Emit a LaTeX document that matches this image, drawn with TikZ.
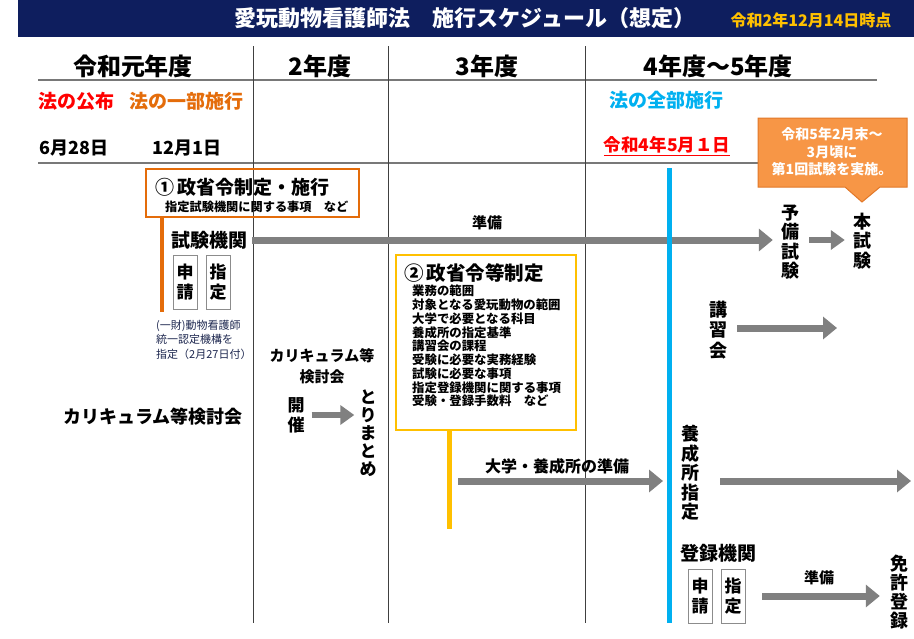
\documentclass[tikz,border=0pt]{standalone}
\usepackage{fontspec}
\setmainfont{Noto Sans CJK JP}
\usetikzlibrary{arrows.meta}
\definecolor{navy}{RGB}{14,30,94}
\definecolor{ttlyellow}{RGB}{255,192,0}
\definecolor{lawred}{RGB}{255,0,0}
\definecolor{laworange}{RGB}{228,108,10}
\definecolor{lawblue}{RGB}{0,176,240}
\definecolor{gold}{RGB}{255,192,0}
\definecolor{agray}{RGB}{128,128,128}
\definecolor{gridgray}{RGB}{120,120,120}
\definecolor{callout}{RGB}{247,150,70}
\definecolor{calloutedge}{RGB}{226,120,40}
\definecolor{notecol}{RGB}{30,40,80}
\newcommand{\fs}[2]{\fontsize{#1}{#2}\selectfont}
\tikzset{
  lbl/.style={inner sep=0pt, font=\bfseries\fs{18}{21}},
  vt/.style={inner sep=0pt, align=center, font=\bfseries\fs{18}{19.5}},
  garrow/.style={draw=agray, line width=7pt, -{Triangle[length=14pt,width=22pt]}},
  sarrow/.style={draw=agray, line width=6pt, -{Triangle[length=14pt,width=19pt]}},
  hgrid/.style={draw=gridgray, line width=1.6pt},
  vgrid/.style={draw=black!75, line width=1pt},
  smallbox/.style={draw=black!45, line width=0.8pt, inner sep=0pt, minimum width=24pt, minimum height=54pt, align=center, font=\bfseries\fs{17}{20}},
}
\begin{document}
\begin{tikzpicture}[x=1pt,y=-1pt]
\useasboundingbox[fill=white] (0,0) rectangle (914,638);
% title bar
\node[fill=navy, minimum width=896pt, minimum height=37pt, inner sep=0pt, anchor=north west] (bar) at (18,0) {};
\node[inner sep=0pt, text=white, font=\bfseries\fs{22}{26}] (title) at (465,18) {愛玩動物看護師法　施行スケジュール（想定）};
\node[inner sep=0pt, text=ttlyellow, font=\bfseries\fs{16}{18}] (asof) at (811,20) {令和2年12月14日時点};
% headers
\node[lbl, font=\bfseries\fs{24}{28}] (y1) at (133,66) {令和元年度};
\node[lbl, font=\bfseries\fs{24}{28}] (y2) at (320,66) {2年度};
\node[lbl, font=\bfseries\fs{24}{28}] (y3) at (487,66) {3年度};
\node[lbl, font=\bfseries\fs{24}{28}] (y45) at (718,66) {4年度～5年度};
% grid
\coordinate (hl1a) at (38,80); \coordinate (hl1b) at (877,80);
\coordinate (hl2a) at (38,163); \coordinate (hl2b) at (877,163);
\draw[hgrid] (hl1a) -- (hl1b);
\draw[hgrid] (hl2a) -- (hl2b);
\coordinate (v1t) at (253,46); \coordinate (v1b) at (253,623);
\coordinate (v2t) at (388,46); \coordinate (v2b) at (388,623);
\coordinate (v3t) at (585,46); \coordinate (v3b) at (585,623);
\draw[vgrid] (v1t) -- (v1b);
\draw[vgrid] (v2t) -- (v2b);
\draw[vgrid] (v3t) -- (v3b);
% row labels
\node[lbl, text=lawred, font=\bfseries\fs{19}{22}] (koufu) at (76,101) {法の公布};
\node[lbl, text=laworange, font=\bfseries\fs{19}{22}] (ichibu) at (186,101) {法の一部施行};
\node[lbl, font=\bfseries\fs{18}{21}] (d1) at (74,148) {6月28日};
\node[lbl, font=\bfseries\fs{18}{21}] (d2) at (187,148) {12月1日};
\node[lbl, text=lawblue, font=\bfseries\fs{19}{22}] (zenbu) at (666,100) {法の全部施行};
\node[lbl, text=lawred, font=\bfseries\fs{17.5}{20}] (d3) at (667,146) {\underline{令和4年5月１日}};
% box 1
\node[draw=laworange, line width=2.5pt, minimum width=213pt, minimum height=48pt, inner sep=0pt] (box1) at (252.5,193) {};
\node[lbl, anchor=west, font=\bfseries\fs{19}{22}] (box1t) at (155,187) {①\,政省令制定・施行};
\node[lbl, anchor=west, font=\bfseries\fs{12.2}{14}] (box1s) at (165,207) {指定試験機関に関する事項　など};
\coordinate (obar) at (162,312);
\draw[draw=laworange, line width=4pt] (box1.south -| obar) -- (obar);
\node[lbl, font=\bfseries\fs{19}{22}] (shiken) at (209,240) {試験機関};
\node[smallbox] (sh1) at (185,282) {申\\請};
\node[smallbox] (sh2) at (218,282) {指\\定};
\node[inner sep=0pt, anchor=north west, align=left, text=notecol, font=\fs{11}{14.5}] (note) at (156,320) {(一財)動物看護師\\統一認定機構を\\指定（2月27日付）};
% exam line
\node[lbl, font=\bfseries\fs{15}{18}] (junbi1) at (487,223) {準備};
\node[vt] (yobi) at (790,242) {予\\備\\試\\験};
\node[vt] (hon) at (862,241) {本\\試\\験};
\draw[garrow] ([xshift=5pt]shiken.east) -- ([xshift=-8pt]shiken.east -| yobi.west);
\draw[sarrow] ([xshift=10pt]yobi.east |- shiken.east) -- ([xshift=-8pt]shiken.east -| hon.west);
% callout
\draw[fill=callout, draw=calloutedge, line width=1pt] (758,118) -- (907,118) -- (907,187) -- (880,187) -- (862,202) -- (845,187) -- (758,187) -- cycle;
\node[inner sep=0pt, align=center, text=white, font=\bfseries\fs{14}{17.5}] (callt) at (832,152) {令和5年2月末～\\3月頃に\\第1回試験を実施。};
% curriculum
\node[lbl] (kcur) at (153,417) {カリキュラム等検討会};
\node[lbl, align=center, font=\bfseries\fs{15}{21}] (kcur2) at (322,366) {カリキュラム等\\検討会};
\node[vt, font=\bfseries\fs{17}{20}] (kaisai) at (296,415) {開\\催};
\node[vt, font=\bfseries\fs{17}{18}] (matome) at (368,433) {と\\り\\ま\\と\\め};
\draw[sarrow] ([xshift=7pt]kaisai.east) -- ([xshift=-5pt]kaisai.east -| matome.west);
% box 2
\node[draw=gold, line width=2.5pt, minimum width=180pt, minimum height=175pt, inner sep=0pt] (box2) at (486,342.5) {};
\node[lbl, anchor=west, font=\bfseries\fs{19.5}{22}] (box2t) at (404,273) {②\,政省令等制定};
\node[inner sep=0pt, anchor=north west, align=left, font=\bfseries\fs{12.4}{13.75}] (box2i) at (412,285) {業務の範囲\\対象となる愛玩動物の範囲\\大学で必要となる科目\\養成所の指定基準\\講習会の課程\\受験に必要な実務経験\\試験に必要な事項\\指定登録機関に関する事項\\受験・登録手数料　など};
\coordinate (gbar) at (449,529);
\draw[draw=gold, line width=5pt] (box2.south -| gbar) -- (gbar);
% blue line
\coordinate (bl1) at (669,168); \coordinate (bl2) at (669,623);
\draw[draw=lawblue, line width=5pt] (bl1) -- (bl2);
% university
\coordinate (ua) at (458,481);
\draw[garrow] (ua) -- ([xshift=-6pt]ua -| bl1);
\node[lbl, font=\bfseries\fs{16}{19}] (ulbl) at (557,466) {大学・養成所の準備};
\node[vt] (yousei) at (690,473) {養\\成\\所\\指\\定};
\coordinate (uend) at (911,481);
\draw[garrow] ([xshift=21pt]yousei.east |- ua) -- (uend);
% training
\node[vt, font=\bfseries\fs{18}{20.5}] (kosyu) at (718,330) {講\\習\\会};
\coordinate (kend) at (837,328);
\draw[garrow] ([xshift=10pt]kosyu.east |- kend) -- (kend);
% registration
\node[lbl, font=\bfseries\fs{19}{22}] (touroku) at (718,553) {登録機関};
\node[smallbox] (sh3) at (700,596) {申\\請};
\node[smallbox] (sh4) at (733,596) {指\\定};
\node[vt, font=\bfseries\fs{18}{19}] (menkyo) at (899,592) {免\\許\\登\\録};
\node[lbl, font=\bfseries\fs{15}{18}] (junbi2) at (819,578) {準備};
\draw[garrow] ([xshift=17pt]sh4.east) -- ([xshift=-10pt]sh4.east -| menkyo.west);
\end{tikzpicture}
\end{document}
